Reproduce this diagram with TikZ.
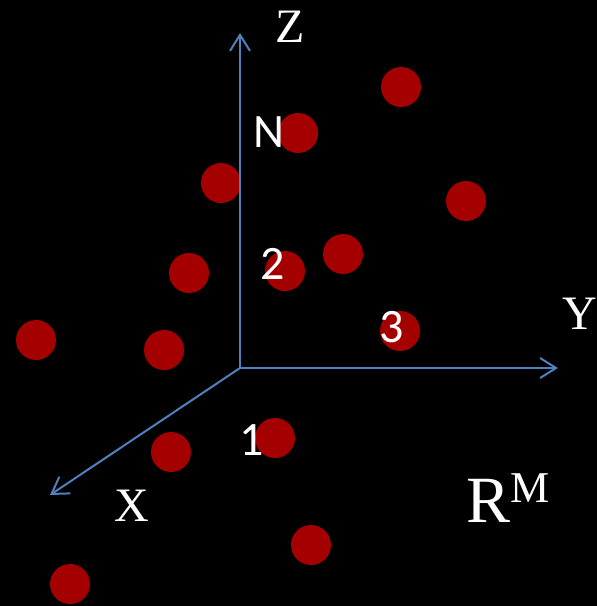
\documentclass[tikz,border=0pt]{standalone}
\usepackage{fontspec}
\setmainfont{Liberation Serif}
\newfontfamily\lblfont{Carlito}
\usetikzlibrary{arrows.meta}
\definecolor{dotred}{HTML}{A50000}
\definecolor{axisblue}{HTML}{4F81BD}
\begin{document}
\begin{tikzpicture}[x=1pt,y=-1pt,
  pt/.style={circle,fill=dotred,draw=none,minimum size=40pt,inner sep=0pt},
  axis/.style={draw=axisblue,line width=2pt,-{Straight Barb[length=16pt,width=20pt,line width=2pt]}},
  axlbl/.style={text=white,inner sep=0pt,font=\fontsize{48}{48}\selectfont},
  numlbl/.style={text=white,inner sep=0pt,font=\lblfont\fontsize{48}{48}\selectfont}]
\fill[black] (0,0) rectangle (597,606);
\useasboundingbox (0,0) rectangle (597,606);
% points
\node[pt] (p1) at (401,87) {};
\node[pt] (p2) at (298,133) {};
\node[pt] (p3) at (221,183) {};
\node[pt] (p4) at (466,201) {};
\node[pt] (p5) at (343,254) {};
\node[pt] (p6) at (285,271) {};
\node[pt] (p7) at (189,273) {};
\node[pt] (p8) at (36,340) {};
\node[pt] (p9) at (164,350) {};
\node[pt] (p10) at (400,331) {};
\node[pt] (p11) at (275,438) {};
\node[pt] (p12) at (171,452) {};
\node[pt] (p13) at (311,545) {};
\node[pt] (p14) at (70,584) {};
% axes
\coordinate (O) at (240,368);
\coordinate (Zend) at (240,33);
\coordinate (Yend) at (558,368);
\coordinate (Xend) at (50,495);
\draw[axis] (O) -- (Zend);
\draw[axis] (O) -- (Yend);
\draw[axis] (O) -- (Xend);
% axis labels
\node[axlbl] (lz) at (290,27) {Z};
\node[axlbl] (ly) at (580,314) {Y};
\node[axlbl] (lx) at (132,506) {X};
\node[text=white,inner sep=0pt,anchor=base west] (lr) at (466,522)
  {{\fontsize{66}{66}\selectfont R}{\fontsize{44}{44}\selectfont\raisebox{20pt}{M}}};
% point labels
\node[numlbl] (ln) at (269,132) {N};
\node[numlbl] (l2) at (273,264) {2};
\node[numlbl] (l3) at (392,327) {3};
\node[numlbl] (l1) at (252,440) {1};
\end{tikzpicture}
\end{document}
